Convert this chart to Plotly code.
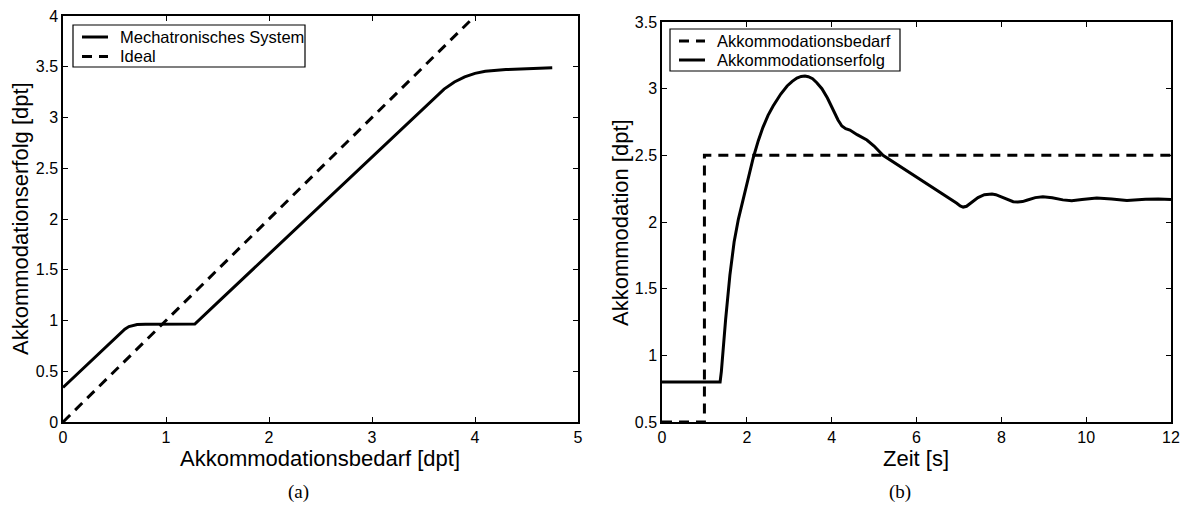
import plotly.graph_objects as go

# Left panel data
bedarf_sys = [0, 0.1, 0.2, 0.3, 0.4, 0.5, 0.56, 0.6, 0.64, 0.68, 0.72, 0.8, 1.0, 1.28,
              1.5, 2.0, 2.5, 3.0, 3.4, 3.6, 3.7, 3.8, 3.9, 4.0, 4.1, 4.3, 4.5, 4.75]
erfolg_sys = [0.34, 0.437, 0.534, 0.63, 0.727, 0.824, 0.88, 0.915, 0.94, 0.953, 0.96, 0.963, 0.965, 0.965,
              1.176, 1.656, 2.136, 2.616, 3.0, 3.19, 3.28, 3.35, 3.40, 3.435, 3.455, 3.472, 3.482, 3.49]
bedarf_ideal = [0, 4]
erfolg_ideal = [0, 4]

# Right panel data
zeit_bedarf = [0, 1, 1, 12]
wert_bedarf = [0.5, 0.5, 2.5, 2.5]
zeit_erfolg = [0, 1.37, 1.4, 1.45, 1.5, 1.6, 1.7, 1.8, 1.91, 2.0, 2.15, 2.27, 2.38, 2.5, 2.62, 2.8, 2.95,
               3.07, 3.18, 3.28, 3.37, 3.45, 3.55, 3.65, 3.77, 3.9, 4.03, 4.15, 4.24, 4.33, 4.43, 4.6,
               4.83, 5.0, 5.21, 5.6, 6.0, 6.5, 6.86, 6.95, 7.03, 7.1, 7.18, 7.3, 7.45, 7.6, 7.7, 7.78,
               7.87, 7.95, 8.15, 8.28, 8.39, 8.5, 8.6, 8.8, 8.98, 9.2, 9.45, 9.66, 9.9, 10.25, 10.6,
               10.96, 11.4, 11.7, 12]
wert_erfolg = [0.8, 0.8, 0.88, 1.08, 1.27, 1.6, 1.85, 2.02, 2.165, 2.28, 2.48, 2.61, 2.71, 2.8, 2.87, 2.96,
               3.02, 3.055, 3.08, 3.092, 3.095, 3.09, 3.075, 3.045, 3.0, 2.93, 2.84, 2.765, 2.72, 2.7,
               2.69, 2.655, 2.615, 2.57, 2.5, 2.42, 2.34, 2.235, 2.165, 2.14, 2.12, 2.112, 2.118, 2.145,
               2.183, 2.205, 2.21, 2.21, 2.205, 2.195, 2.165, 2.152, 2.15, 2.153, 2.163, 2.183, 2.19,
               2.182, 2.166, 2.16, 2.168, 2.18, 2.172, 2.162, 2.17, 2.172, 2.168]

legend_left = ["Mechatronisches System", "Ideal"]
legend_right = ["Akkommodationsbedarf", "Akkommodationserfolg"]
axis_titles = {"x": "Akkommodationsbedarf [dpt]", "y": "Akkommodationserfolg [dpt]",
               "x2": "Zeit [s]", "y2": "Akkommodation [dpt]"}

W, H = 1183, 517
FONT = "Liberation Sans, Arial, sans-serif"
DASH = "10px,7px"

fig = go.Figure()
fig.add_trace(go.Scatter(x=bedarf_sys, y=erfolg_sys, mode="lines", name=legend_left[0],
                         line=dict(color="black", width=3), xaxis="x", yaxis="y"))
fig.add_trace(go.Scatter(x=bedarf_ideal, y=erfolg_ideal, mode="lines", name=legend_left[1],
                         line=dict(color="black", width=3, dash=DASH), xaxis="x", yaxis="y"))
fig.add_trace(go.Scatter(x=zeit_bedarf, y=wert_bedarf, mode="lines", name=legend_right[0],
                         line=dict(color="black", width=3, dash=DASH), xaxis="x2", yaxis="y2"))
fig.add_trace(go.Scatter(x=zeit_erfolg, y=wert_erfolg, mode="lines", name=legend_right[1],
                         line=dict(color="black", width=3), xaxis="x2", yaxis="y2"))

axis_common = dict(showline=True, linecolor="black", linewidth=1.5, mirror="allticks",
                   ticks="inside", ticklen=5, tickcolor="black", showgrid=False, zeroline=False,
                   automargin=False,
                   tickfont=dict(family=FONT, size=16, color="black"))


def px_x(p):
    return p / W


def px_y(p):
    return 1 - p / H


TITLE_FONT = dict(family=FONT, size=22, color="black")
LEG_FONT = dict(family=FONT, size=16.5, color="black")
CAP_FONT = dict(family="Liberation Serif, Times New Roman, serif", size=19, color="black")

shapes = []
annotations = []


def add_legend(box, rows, labels, dashes):
    x0, y0, x1, y1 = box
    shapes.append(dict(type="rect", xref="paper", yref="paper", x0=px_x(x0), x1=px_x(x1),
                       y0=px_y(y1), y1=px_y(y0), line=dict(color="black", width=1.2),
                       fillcolor="white", layer="above"))
    for yrow, lab, d in zip(rows, labels, dashes):
        shapes.append(dict(type="line", xref="paper", yref="paper", x0=px_x(x0 + 9), x1=px_x(x0 + 35),
                           y0=px_y(yrow), y1=px_y(yrow),
                           line=dict(color="black", width=3, dash=d), layer="above"))
        annotations.append(dict(text=lab, xref="paper", yref="paper", x=px_x(x0 + 45), y=px_y(yrow),
                                xanchor="left", yanchor="middle", showarrow=False, font=LEG_FONT))


add_legend((73, 25, 305, 67), (37, 56.5), legend_left, ("solid", DASH))
add_legend((670, 29, 900, 71), (41, 60), legend_right, (DASH, "solid"))


def text_at(txt, xp, yp, font, angle=0):
    annotations.append(dict(text=txt, x=px_x(xp), y=px_y(yp), xref="paper", yref="paper",
                            showarrow=False, xanchor="center", yanchor="middle",
                            textangle=angle, font=font))


text_at(axis_titles["x"], 320, 458, TITLE_FONT)
text_at(axis_titles["y"], 20, 219, TITLE_FONT, -90)
text_at(axis_titles["x2"], 916, 458, TITLE_FONT)
text_at(axis_titles["y2"], 620, 222, TITLE_FONT, -90)
text_at("(a)", 298, 492, CAP_FONT)
text_at("(b)", 900, 492, CAP_FONT)

fig.update_layout(
    width=W, height=H, margin=dict(l=0, r=0, t=0, b=0, autoexpand=False),
    paper_bgcolor="white", plot_bgcolor="white",
    font=dict(family=FONT, color="black"),
    showlegend=False,
    xaxis=dict(domain=[px_x(63), px_x(578)], range=[0, 5], dtick=1, anchor="y", **axis_common),
    yaxis=dict(domain=[px_y(422), px_y(16)], range=[0, 4], dtick=0.5, anchor="x", **axis_common),
    xaxis2=dict(domain=[px_x(662), px_x(1171)], range=[0, 12], dtick=2, anchor="y2", **axis_common),
    yaxis2=dict(domain=[px_y(422), px_y(22)], range=[0.5, 3.5], dtick=0.5, anchor="x2", **axis_common),
    shapes=shapes,
    annotations=annotations,
)

fig.write_html("out.html", config={"displayModeBar": False},
               post_script="document.body.style.margin='0';document.body.style.overflow='hidden';")
